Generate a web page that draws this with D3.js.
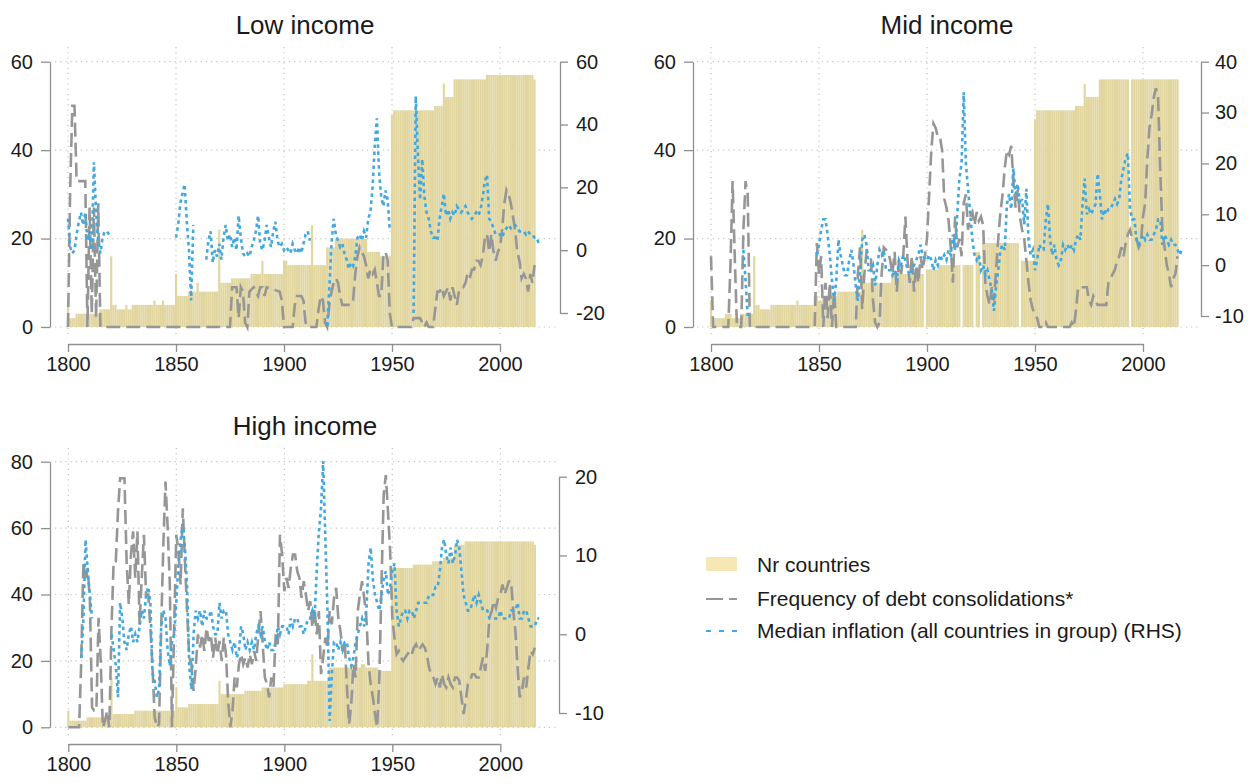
<!DOCTYPE html>
<html>
<head>
<meta charset="utf-8">
<script src="https://cdn.jsdelivr.net/npm/d3@7"></script>
<style>
  html, body { margin: 0; padding: 0; background: #fff; }
  svg { display: block; font-family: "Liberation Sans", Arial, Helvetica, sans-serif; }
</style>
</head>
<body>
<svg id="chart" width="1250" height="784"></svg>
<script>
// ---------------------------------------------------------------
// Number of countries with data, one value per year from 1800 to 2016
// (null = no observation that year)
// ---------------------------------------------------------------
const firstYear = 1800;

const lowCount = [
  6,2,2,2,3,3,3,3,3,3,            // 1800s
  3,3,3,3,3,4,4,4,4,4,            // 1810s
  16,5,5,4,4,4,4,5,4,4,           // 1820s
  5,5,5,5,5,5,5,5,5,5,            // 1830s
  6,5,5,5,6,5,5,5,5,5,            // 1840s
  12,7,7,7,7,7,8,8,8,8,           // 1850s
  10,8,8,8,8,8,8,8,8,8,           // 1860s
  22,10,10,10,10,10,11,11,11,11,  // 1870s
  11,11,11,11,11,12,12,12,12,12,  // 1880s
  15,12,12,12,12,12,12,12,12,12,  // 1890s
  15,15,14,14,14,14,14,14,14,14,  // 1900s
  14,14,14,23,14,14,14,14,14,14,  // 1910s
  18,18,18,18,20,20,20,20,20,20,  // 1920s
  20,20,20,20,20,20,20,20,20,17,  // 1930s
  17,17,17,17,17,16,16,16,16,16,  // 1940s
  48,49,49,49,49,49,49,49,49,49,  // 1950s
  49,49,49,49,49,49,49,49,49,49,  // 1960s
  50,50,50,50,55,52,52,52,52,56,  // 1970s
  56,56,56,56,56,56,56,56,56,56,  // 1980s
  56,56,56,56,57,57,57,57,57,57,  // 1990s
  57,57,57,57,57,57,57,57,57,57,  // 2000s
  57,57,57,57,57,57,56            // 2010s
];

const midCount = [
  6,2,2,2,2,2,2,3,3,3,            // 1800s
  2,2,2,2,3,3,3,3,3,3,            // 1810s
  16,5,5,4,4,4,4,4,5,5,           // 1820s
  5,5,5,5,5,5,5,5,5,5,            // 1830s
  6,5,5,5,5,5,5,5,7,7,            // 1840s
  6,6,7,7,7,7,7,7,7,8,            // 1850s
  8,8,8,8,8,8,8,8,8,8,            // 1860s
  22,10,10,10,10,10,10,10,10,10,  // 1870s
  10,10,10,10,12,12,12,12,12,12,  // 1880s
  12,12,12,12,12,12,12,12,12,null,// 1890s
  13,13,13,13,13,13,14,14,14,14,  // 1900s
  14,14,14,14,14,14,null,14,14,14,// 1910s
  14,14,null,17,17,null,19,19,19,19, // 1920s
  19,19,19,19,19,19,19,19,19,19,  // 1930s
  19,19,19,null,15,15,15,15,15,15,// 1940s
  47,49,49,49,49,49,49,49,49,49,  // 1950s
  49,49,49,49,49,49,49,49,49,50,  // 1960s
  50,50,50,55,52,52,52,52,52,52,  // 1970s
  56,56,56,56,56,56,56,56,56,56,  // 1980s
  56,56,56,56,null,56,56,56,56,56,// 1990s
  56,56,56,56,56,56,56,56,56,56,  // 2000s
  56,56,56,56,56,56,56            // 2010s
];

const highCount = [
  5,2,2,2,2,2,2,2,2,3,            // 1800s
  3,3,3,3,3,3,3,3,3,3,            // 1810s
  15,4,4,4,4,4,4,4,4,4,           // 1820s
  4,5,5,5,5,5,5,5,5,5,            // 1830s
  5,5,5,5,5,5,5,5,5,5,            // 1840s
  12,6,6,6,6,6,7,7,7,7,           // 1850s
  7,7,7,7,7,7,7,7,7,7,            // 1860s
  14,10,10,10,10,10,10,10,10,10,  // 1870s
  10,10,11,11,11,11,11,11,11,11,  // 1880s
  12,12,12,12,12,12,12,12,12,12,  // 1890s
  13,13,13,13,13,13,13,13,13,13,  // 1900s
  13,14,14,22,14,14,14,14,14,14,  // 1910s
  14,18,18,18,18,18,18,18,18,18,  // 1920s
  18,18,18,18,18,18,19,19,18,18,  // 1930s
  18,18,18,18,17,17,17,17,17,17,  // 1940s
  48,48,48,48,48,48,48,48,48,48,  // 1950s
  49,49,49,49,49,49,49,49,49,50,  // 1960s
  50,50,50,50,51,51,51,51,51,55,  // 1970s
  55,55,55,55,56,56,56,56,56,56,  // 1980s
  56,56,56,56,56,56,56,56,56,56,  // 1990s
  56,56,56,56,56,56,56,56,56,56,  // 2000s
  56,56,56,56,56,56,55            // 2010s
];

// ---------------------------------------------------------------
// Frequency of debt consolidations (left axis), [year, value]
// ---------------------------------------------------------------
const lowDebt = [
  [1800,0],[1801,31],[1802,50],[1803,50],[1804,33],[1808,33],[1809,0],[1810,27],[1811,3],
  [1812,27],[1813,2],[1814,28],[1815,0],[1875,0],[1876,9],[1878,9],[1879,2],[1880,9],
  [1881,8],[1882,1],[1883,0],[1884,8],[1886,9],[1887,8],[1888,7],[1889,9],[1890,9],
  [1891,7],[1892,9],[1898,8],[1899,6],[1900,0],[1904,0],[1905,5],[1906,7],[1908,7],
  [1909,6],[1910,1],[1911,0],[1915,0],[1916,4],[1917,7],[1918,6],[1919,1],[1920,0],
  [1921,5],[1922,8],[1923,10],[1924,11],[1925,10],[1926,7],[1927,5],[1929,5],[1931,5],
  [1932,6],[1933,12],[1934,16],[1935,18],[1936,17],[1937,16],[1938,14],[1939,11],
  [1940,13],[1941,12],[1942,13],[1943,10],[1944,7],[1945,7],[1946,16],[1947,17],
  [1948,15],[1949,3],[1950,0],[1959,0],[1960,2],[1963,2],[1965,0],[1966,1],[1967,0],
  [1969,0],[1970,4],[1971,8],[1972,8],[1973,9],[1974,7],[1975,8],[1976,9],[1977,6],
  [1978,9],[1979,7],[1980,5],[1981,8],[1982,9],[1983,9],[1984,10],[1985,12],[1986,11],
  [1987,13],[1988,13],[1989,15],[1990,15],[1991,14],[1992,16],[1993,20],[1994,21],
  [1995,17],[1996,21],[1997,17],[1998,15],[1999,17],[2000,18],[2001,22],[2002,28],
  [2003,31],[2004,30],[2005,28],[2006,25],[2007,22],[2008,17],[2009,15],[2010,11],
  [2011,12],[2012,11],[2013,8],[2014,12],[2015,10],[2016,14]
];

const midDebt = [
  [1800,16],[1801,0],[1808,0],[1809,14],[1810,33],[1811,16],[1812,0],[1814,0],[1815,22],
  [1816,33],[1817,30],[1818,0],[1848,0],[1849,19],[1850,12],[1851,16],[1852,0],[1853,10],
  [1854,2],[1855,10],[1856,0],[1857,8],[1858,0],[1867,0],[1868,12],[1869,18],[1870,4],
  [1871,12],[1872,17],[1874,16],[1875,6],[1876,1],[1877,0],[1878,1],[1879,12],[1880,18],
  [1882,17],[1883,15],[1884,12],[1885,17],[1886,8],[1887,15],[1888,12],[1889,16],
  [1890,25],[1891,15],[1892,10],[1893,16],[1894,8],[1895,14],[1896,10],[1897,16],
  [1898,13],[1899,16],[1900,20],[1901,30],[1902,40],[1903,46],[1904,45],[1905,43],
  [1906,43],[1907,40],[1908,29],[1909,27],[1910,24],[1911,18],[1912,10],[1913,25],
  [1914,18],[1915,20],[1916,16],[1917,28],[1918,30],[1919,22],[1920,25],[1921,26],
  [1922,23],[1923,26],[1924,24],[1925,25],[1926,23],[1927,10],[1928,7],[1929,5],
  [1930,9],[1931,6],[1932,13],[1933,20],[1934,26],[1935,30],[1936,36],[1937,40],
  [1938,39],[1939,41],[1940,33],[1941,27],[1942,31],[1943,25],[1944,22],[1945,20],
  [1946,15],[1947,10],[1948,6],[1949,4],[1950,3],[1951,2],[1952,0],[1954,0],[1955,1],
  [1956,0],[1966,0],[1967,1],[1968,0],[1969,4],[1970,9],[1972,9],[1974,9],[1975,6],
  [1976,5],[1977,7],[1978,6],[1979,5],[1983,5],[1984,10],[1985,11],[1986,12],[1987,13],
  [1988,15],[1989,16],[1990,18],[1991,16],[1992,19],[1993,21],[1994,22],[1995,20],
  [1997,20],[1998,18],[1999,19],[2000,25],[2001,28],[2002,38],[2003,45],[2004,48],
  [2005,52],[2006,54],[2007,52],[2008,35],[2009,22],[2010,18],[2011,14],[2012,12],
  [2013,9],[2014,11],[2015,12],[2016,16]
];

const highDebt = [
  [1800,0],[1805,0],[1806,20],[1807,50],[1808,44],[1809,48],[1810,38],[1811,6],[1812,5],
  [1813,5],[1814,33],[1815,20],[1816,0],[1817,2],[1818,5],[1819,0],[1820,30],[1821,50],
  [1822,50],[1823,65],[1824,75],[1826,75],[1827,50],[1828,37],[1829,52],[1830,59],
  [1831,45],[1832,59],[1833,31],[1834,45],[1835,58],[1836,40],[1837,40],[1838,30],
  [1839,18],[1840,3],[1841,0],[1842,1],[1843,30],[1844,55],[1845,74],[1846,60],[1847,43],
  [1848,0],[1849,30],[1850,58],[1851,53],[1852,43],[1853,66],[1854,50],[1855,35],
  [1856,21],[1857,19],[1858,11],[1859,18],[1860,28],[1861,24],[1862,28],[1863,23],
  [1864,30],[1865,26],[1866,28],[1867,21],[1868,27],[1869,22],[1870,26],[1871,20],
  [1872,27],[1873,22],[1874,8],[1875,0],[1876,5],[1877,15],[1878,12],[1879,19],[1880,22],
  [1881,19],[1882,21],[1883,18],[1884,22],[1885,19],[1886,23],[1887,20],[1888,28],
  [1889,35],[1890,25],[1891,15],[1892,13],[1893,9],[1894,15],[1895,12],[1896,28],
  [1897,25],[1898,58],[1899,52],[1900,41],[1901,45],[1902,42],[1903,48],[1904,52],
  [1905,52],[1906,47],[1907,45],[1908,39],[1909,44],[1910,40],[1911,35],[1912,38],
  [1913,30],[1914,36],[1915,28],[1916,35],[1917,16],[1918,21],[1919,27],[1920,24],
  [1921,35],[1922,31],[1923,39],[1924,42],[1925,33],[1926,29],[1927,23],[1928,26],
  [1929,12],[1930,1],[1931,7],[1932,19],[1933,15],[1934,35],[1935,40],[1936,44],
  [1937,39],[1938,33],[1939,19],[1940,13],[1941,9],[1942,4],[1943,0],[1944,15],
  [1945,43],[1946,70],[1947,76],[1948,65],[1949,53],[1950,33],[1951,27],[1952,22],
  [1953,23],[1954,21],[1955,20],[1956,21],[1957,22],[1958,23],[1959,22],[1960,24],
  [1961,25],[1962,23],[1963,24],[1964,25],[1965,24],[1966,22],[1967,18],[1968,16],
  [1969,15],[1970,13],[1971,15],[1972,12],[1973,16],[1974,13],[1975,12],[1976,15],
  [1977,13],[1978,12],[1979,15],[1980,15],[1981,14],[1982,9],[1983,4],[1984,8],
  [1985,13],[1986,14],[1987,16],[1988,16],[1989,15],[1990,15],[1991,18],[1992,21],
  [1993,17],[1994,24],[1995,33],[1996,35],[1997,38],[1998,36],[1999,39],[2000,40],
  [2001,43],[2002,40],[2003,42],[2004,44],[2005,44],[2006,35],[2007,29],[2008,18],
  [2009,9],[2010,11],[2011,15],[2012,12],[2013,18],[2014,23],[2015,22],[2016,24]
];

// ---------------------------------------------------------------
// Median inflation, all countries in group (right axis), [year, value]
// [year, null] marks a break in the series
// ---------------------------------------------------------------
const lowInfl = [
  [1800,10],[1801,1],[1802,-1],[1803,0],[1804,5],[1805,9],[1806,12],[1807,8],[1808,12],
  [1809,3],[1810,6],[1811,0],[1812,28],[1813,12],[1814,3],[1815,-1],[1816,4],[1817,6],
  [1818,6],[1819,5],[1820,null],
  [1850,4],[1851,8],[1852,15],[1853,18],[1854,21],[1855,9],[1856,0],[1857,-16],[1858,8],
  [1859,null],
  [1864,-3],[1865,3],[1866,6],[1867,-4],[1868,0],[1869,-2],[1870,2],[1871,-3],[1872,4],
  [1873,8],[1874,3],[1875,5],[1876,1],[1877,4],[1878,0],[1879,11],[1880,4],[1881,-1],
  [1882,-2],[1883,-1],[1884,-2],[1885,1],[1886,3],[1887,6],[1888,11],[1889,2],[1890,0],
  [1891,3],[1892,8],[1893,4],[1894,1],[1895,6],[1896,9],[1897,3],[1898,1],[1899,2],
  [1900,0],[1901,1],[1902,0],[1903,-1],[1904,2],[1905,0],[1906,-1],[1907,1],[1908,-1],
  [1909,2],[1910,5],[1911,6],[1912,3],[1913,null],
  [1920,-24],[1921,-12],[1922,2],[1923,10],[1924,5],[1925,3],[1926,1],[1927,2],[1928,-1],
  [1929,-3],[1930,-6],[1931,-4],[1932,-5],[1933,-2],[1934,4],[1935,5],[1936,3],[1937,6],
  [1938,4],[1939,10],[1940,12],[1941,20],[1942,33],[1943,42],[1944,25],[1945,17],
  [1946,14],[1947,19],[1948,16],[1949,6],[1950,null],
  [1960,-20],[1961,49],[1962,30],[1963,16],[1964,29],[1965,17],[1966,12],[1967,10],
  [1968,6],[1969,4],[1970,4],[1971,3],[1972,10],[1973,14],[1974,18],[1975,11],[1976,13],
  [1977,10],[1978,12],[1979,11],[1980,14],[1981,13],[1982,12],[1983,13],[1984,14],
  [1985,12],[1986,11],[1987,10],[1988,11],[1989,12],[1990,11],[1991,13],[1992,17],
  [1993,22],[1994,24],[1995,10],[1996,9],[1997,7],[1998,5],[1999,5],[2000,5],[2001,4],
  [2002,6],[2003,7],[2004,8],[2005,7],[2006,8],[2007,8],[2008,7],[2009,6],[2010,6],
  [2011,6],[2012,5],[2013,6],[2014,5],[2015,5],[2016,4],[2017,4],[2018,2]
];

const midInfl = [
  [1815,3],[1816,-3],[1817,-10],[1818,null],
  [1849,2],[1850,4],[1851,7],[1852,9],[1853,9],[1854,6],[1855,2],[1856,-3],[1857,-7],
  [1858,-3],[1859,5],[1860,2],[1861,0],[1862,-2],[1863,-2],[1864,1],[1865,3],[1866,0],
  [1867,-4],[1868,-7],[1869,-1],[1870,5],[1871,6],[1872,4],[1873,-1],[1874,-1],[1875,0],
  [1876,-4],[1877,0],[1878,3],[1879,2],[1880,3],[1881,-1],[1882,-1],[1883,-1],[1884,-2],
  [1885,-1],[1886,-3],[1887,1],[1888,0],[1889,2],[1890,1],[1891,-1],[1892,-2],[1893,-1],
  [1894,0],[1895,1],[1896,2],[1897,4],[1898,2],[1899,1],[1900,1],[1901,2],[1902,1],
  [1903,-1],[1904,1],[1905,0],[1906,2],[1907,1],[1908,2],[1909,1],[1910,3],[1911,2],
  [1912,6],[1913,3],[1914,10],[1915,17],[1916,20],[1917,34],[1918,20],[1919,15],
  [1920,10],[1921,5],[1922,2],[1923,1],[1924,2],[1925,-1],[1926,0],[1927,-2],[1928,-1],
  [1929,-3],[1930,-5],[1931,-9],[1932,-4],[1933,-1],[1934,3],[1935,4],[1936,3],[1937,12],
  [1938,14],[1939,11],[1940,19],[1941,14],[1942,16],[1943,12],[1944,13],[1945,8],
  [1946,15],[1947,5],[1948,2],[1949,3],[1950,-1],[1951,1],[1952,4],[1953,3],[1954,3],
  [1955,9],[1956,12],[1957,5],[1958,2],[1959,4],[1960,1],[1961,0],[1962,1],[1963,4],
  [1964,3],[1965,4],[1966,3],[1967,4],[1968,3],[1969,5],[1970,6],[1971,5],[1972,12],
  [1973,17],[1974,10],[1975,11],[1976,10],[1977,11],[1978,12],[1979,18],[1980,14],
  [1981,9],[1982,11],[1983,10],[1984,11],[1985,11],[1986,12],[1987,13],[1988,12],
  [1989,13],[1990,17],[1991,19],[1992,21],[1993,22],[1994,11],[1995,9],[1996,9],
  [1997,5],[1998,4],[1999,5],[2000,6],[2001,5],[2002,6],[2003,5],[2004,5],[2005,6],
  [2006,7],[2007,9],[2008,9],[2009,4],[2010,6],[2011,5],[2012,4],[2013,5],[2014,4],
  [2015,4],[2016,3],[2017,2],[2018,3]
];

const highInfl = [
  [1806,-3],[1807,2],[1808,12],[1809,8],[1810,5],[1811,2],[1812,null],
  [1820,0],[1821,-2],[1822,-4],[1823,-8],[1824,4],[1825,2],[1826,-1],[1827,-2],[1828,0],
  [1829,1],[1830,-1],[1831,0],[1832,-1],[1833,1],[1834,3],[1835,2],[1836,5],[1837,6],
  [1838,4],[1839,-5],[1840,-6],[1841,-8],[1842,-7],[1843,1],[1844,3],[1845,2],[1846,-2],
  [1847,-4],[1848,-1],[1849,0],[1850,4],[1851,9],[1852,12],[1853,14],[1854,11],[1855,6],
  [1856,-4],[1857,-7],[1858,0],[1859,3],[1860,2],[1861,3],[1862,1],[1863,3],[1864,2],
  [1865,2],[1866,3],[1867,1],[1868,0],[1869,0],[1870,4],[1871,2],[1872,3],[1873,3],
  [1874,0],[1875,-1],[1876,-2],[1877,-1],[1878,-3],[1879,-2],[1880,1],[1881,0],[1882,-2],
  [1883,-1],[1884,-2],[1885,-1],[1886,-2],[1887,0],[1888,1],[1889,0],[1890,1],[1891,-1],
  [1892,-2],[1893,-1],[1894,-2],[1895,-2],[1896,-1],[1897,1],[1898,0],[1899,1],[1900,1],
  [1901,1],[1902,0],[1903,2],[1904,1],[1905,2],[1906,2],[1907,1],[1908,1],[1909,0],
  [1910,1],[1911,2],[1912,2],[1913,3],[1914,2],[1915,8],[1916,13],[1917,16],[1918,22],
  [1919,12],[1920,3],[1921,-11],[1922,-5],[1923,-1],[1924,-1],[1925,-2],[1926,-1],
  [1927,-2],[1928,-1],[1929,-1],[1930,-3],[1931,-4],[1932,-3],[1933,-1],[1934,0],
  [1935,1],[1936,2],[1937,1],[1938,3],[1939,9],[1940,11],[1941,7],[1942,5],[1943,4],
  [1944,3],[1945,5],[1946,7],[1947,8],[1948,5],[1949,6],[1950,8],[1951,9],[1952,3],
  [1953,1],[1954,2],[1955,3],[1956,3],[1957,2],[1958,3],[1959,3],[1960,2],[1961,3],
  [1962,4],[1963,4],[1964,4],[1965,4],[1966,4],[1967,5],[1968,5],[1969,5],[1970,6],
  [1971,6],[1972,8],[1973,11],[1974,12],[1975,10],[1976,9],[1977,11],[1978,9],[1979,10],
  [1980,12],[1981,11],[1982,8],[1983,5],[1984,4],[1985,3],[1986,3],[1987,4],[1988,5],
  [1989,4],[1990,5],[1991,4],[1992,3],[1993,3],[1994,3],[1995,2],[1996,2],[1997,2],
  [1998,2],[1999,2],[2000,3],[2001,2],[2002,2],[2003,2],[2004,2],[2005,3],[2006,3],
  [2007,3],[2008,4],[2009,2],[2010,2],[2011,3],[2012,3],[2013,2],[2014,1],[2015,1],
  [2016,1],[2017,2],[2018,2]
];

// Axis tick labels
const xTicks = [1800, 1850, 1900, 1950, 2000];
const lowLeftTicks = [0, 20, 40, 60];
const lowRightTicks = [-20, 0, 20, 40, 60];
const midLeftTicks = [0, 20, 40, 60];
const midRightTicks = [-10, 0, 10, 20, 30, 40];
const highLeftTicks = [0, 20, 40, 60, 80];
const highRightTicks = [-10, 0, 10, 20];

const legendLabels = [
  "Nr countries",
  "Frequency of debt consolidations*",
  "Median inflation (all countries in group) (RHS)"
];

// ---------------------------------------------------------------
// Styling
// ---------------------------------------------------------------
const barColor = "#e2d6a0";
const swatchColor = "#f7e7b4";
const debtColor = "#969696";
const inflColor = "#42a8de";
const axisColor = "#8f8f8f";
const gridColor = "#c4c4c4";
const textColor = "#1a1a1a";

const svg = d3.select("#chart");
const plainNumber = d => String(d);   // hyphen-minus for negative ticks

// Panel layout (pixel frame of each small multiple)
const panels = [
  { title: "Low income", titleX: 305, titleY: 34,
    x1800: 68, leftX: 50, rightX: 560, rightPad: 8, gridX: [55, 556],
    top: 61.7, base: 327, gridY: [47, 338], axisY: 344,
    leftMax: 60, leftTicks: lowLeftTicks,
    rDomain: [-20, 60], rRange: [313, 61.7], rightTicks: lowRightTicks,
    counts: lowCount, debt: lowDebt, infl: lowInfl },
  { title: "Mid income", titleX: 947, titleY: 34,
    x1800: 711, leftX: 693, rightX: 1201, rightPad: 6, gridX: [697, 1198],
    top: 61.7, base: 327, gridY: [47, 338], axisY: 344,
    leftMax: 60, leftTicks: midLeftTicks,
    rDomain: [-10, 40], rRange: [316, 61.7], rightTicks: midRightTicks,
    counts: midCount, debt: midDebt, infl: midInfl },
  { title: "High income", titleX: 305, titleY: 435,
    x1800: 68.3, leftX: 50, rightX: 559, rightPad: 8, gridX: [55, 556],
    top: 461.7, base: 727.3, gridY: [448, 738], axisY: 744,
    leftMax: 80, leftTicks: highLeftTicks,
    rDomain: [-10, 20], rRange: [713, 476.7], rightTicks: highRightTicks,
    counts: highCount, debt: highDebt, infl: highInfl }
];

function styleAxis(g) {
  g.select(".domain").attr("stroke", axisColor).attr("stroke-width", 1.3);
  g.selectAll(".tick line").attr("stroke", axisColor).attr("stroke-width", 1.3);
  g.selectAll(".tick text")
    .attr("fill", textColor)
    .style("font-size", "20px")
    .style("font-family", '"Liberation Sans", Arial, sans-serif');
}

function drawPanel(p) {
  const g = svg.append("g");

  const x = d3.scaleLinear().domain([1800, 2000]).range([p.x1800, p.x1800 + 432]);
  const yL = d3.scaleLinear().domain([0, p.leftMax]).range([p.base, p.top]);
  const yR = d3.scaleLinear().domain(p.rDomain).range(p.rRange);
  const bw = x(1801) - x(1800);

  // dotted grid: horizontal at left-axis ticks, vertical at year ticks
  g.append("g").selectAll("line").data(p.leftTicks).join("line")
    .attr("x1", p.gridX[0]).attr("x2", p.gridX[1])
    .attr("y1", d => yL(d)).attr("y2", d => yL(d))
    .attr("stroke", gridColor).attr("stroke-width", 1.2)
    .attr("stroke-dasharray", "1.2,4");
  g.append("g").selectAll("line").data(xTicks).join("line")
    .attr("x1", d => x(d)).attr("x2", d => x(d))
    .attr("y1", p.gridY[0]).attr("y2", p.gridY[1])
    .attr("stroke", gridColor).attr("stroke-width", 1.2)
    .attr("stroke-dasharray", "1.2,4");

  // yearly bars: number of countries
  const bars = p.counts.map((v, i) => ({ year: firstYear + i, v }))
    .filter(d => d.v != null);
  g.append("g").selectAll("rect").data(bars).join("rect")
    .attr("x", d => x(d.year) - bw / 2)
    .attr("width", bw)
    .attr("y", d => yL(d.v))
    .attr("height", d => yL(0) - yL(d.v))
    .attr("fill", barColor);

  // debt consolidation frequency (left axis)
  const lineL = d3.line().defined(d => d[1] != null)
    .x(d => x(d[0])).y(d => yL(d[1]));
  g.append("path").datum(p.debt)
    .attr("d", lineL)
    .attr("fill", "none")
    .attr("stroke", debtColor)
    .attr("stroke-width", 2.6)
    .attr("stroke-dasharray", "14,6");

  // median inflation (right axis)
  const lineR = d3.line().defined(d => d[1] != null)
    .x(d => x(d[0])).y(d => yR(d[1]));
  g.append("path").datum(p.infl)
    .attr("d", lineR)
    .attr("fill", "none")
    .attr("stroke", inflColor)
    .attr("stroke-width", 2.6)
    .attr("stroke-dasharray", "3.5,3.5");

  // axes
  g.append("g").attr("transform", `translate(${p.leftX},0)`)
    .call(d3.axisLeft(yL).tickValues(p.leftTicks).tickFormat(plainNumber)
      .tickSize(9).tickSizeOuter(0).tickPadding(8))
    .call(styleAxis);
  g.append("g").attr("transform", `translate(${p.rightX},0)`)
    .call(d3.axisRight(yR).tickValues(p.rightTicks).tickFormat(plainNumber)
      .tickSize(8).tickSizeOuter(0).tickPadding(p.rightPad))
    .call(styleAxis);
  g.append("g").attr("transform", `translate(0,${p.axisY})`)
    .call(d3.axisBottom(x).tickValues(xTicks).tickFormat(plainNumber)
      .tickSize(8).tickSizeOuter(0).tickPadding(5))
    .call(styleAxis);

  // panel title
  g.append("text")
    .attr("x", p.titleX).attr("y", p.titleY)
    .attr("text-anchor", "middle")
    .attr("fill", textColor)
    .style("font-size", "26px")
    .text(p.title);
}

panels.forEach(drawPanel);

// legend
const legend = svg.append("g").attr("transform", "translate(706,0)");
legend.append("rect").attr("x", 0).attr("y", 557).attr("width", 31).attr("height", 14)
  .attr("fill", swatchColor);
legend.append("line").attr("x1", 0).attr("x2", 31).attr("y1", 599).attr("y2", 599)
  .attr("stroke", debtColor).attr("stroke-width", 2.2).attr("stroke-dasharray", "17,6");
legend.append("line").attr("x1", 0).attr("x2", 31).attr("y1", 631).attr("y2", 631)
  .attr("stroke", inflColor).attr("stroke-width", 2.2).attr("stroke-dasharray", "5,8");
legend.selectAll("text").data(legendLabels).join("text")
  .attr("x", 51)
  .attr("y", (d, i) => [572, 606, 638][i])
  .attr("fill", textColor)
  .style("font-size", "21px")
  .text(d => d);
</script>
</body>
</html>
